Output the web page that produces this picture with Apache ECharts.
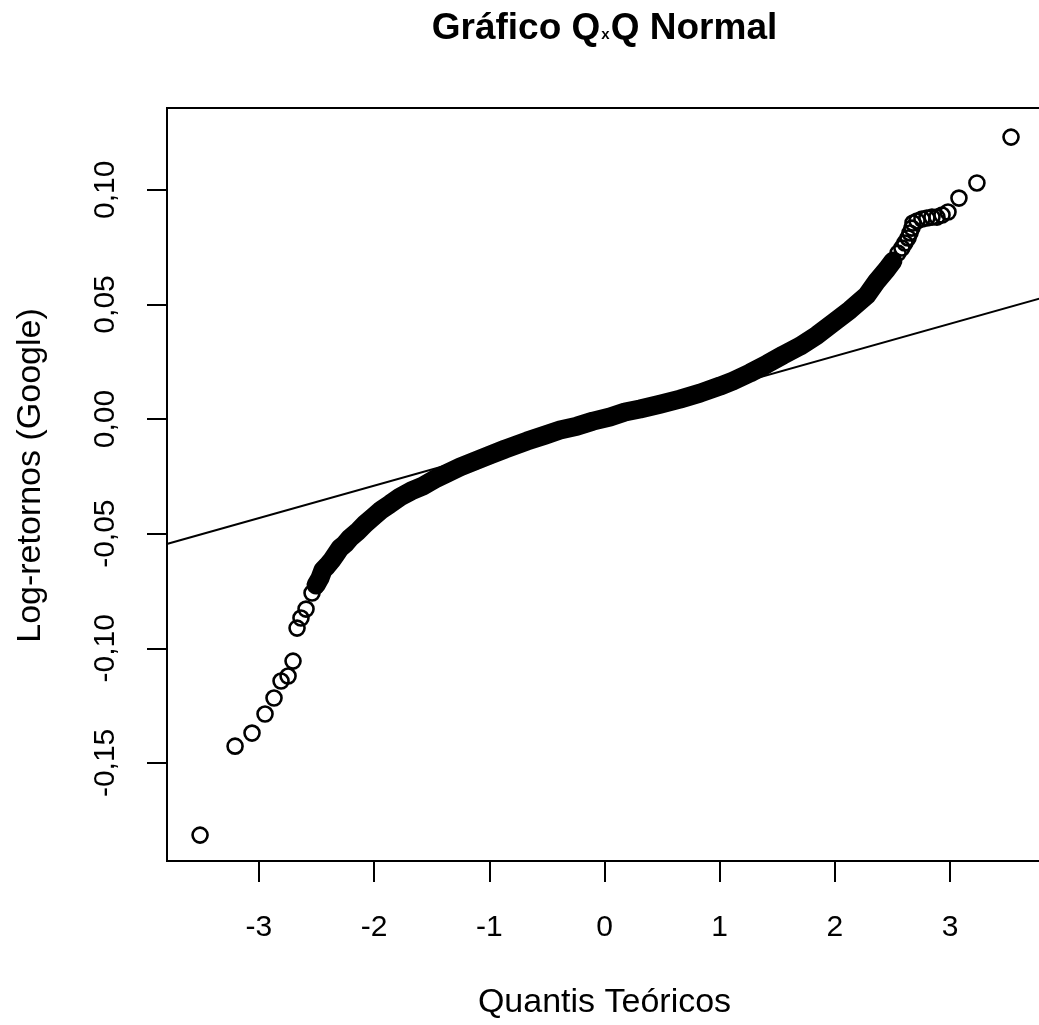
<!DOCTYPE html>
<html>
<head>
<meta charset="utf-8">
<script src="https://cdn.jsdelivr.net/npm/echarts@6/dist/echarts.min.js"></script>
<style>
  html, body { margin: 0; padding: 0; background: #ffffff; }
  #chart { width: 1039px; height: 1025px; }
</style>
</head>
<body>
<div id="chart"></div>
<script>
// Sorted Google log-returns against theoretical normal quantiles: [quantile, log-return]
const lowerTail = [
  [-3.511, -0.1815], [-3.207, -0.1427], [-3.060, -0.1370], [-2.947, -0.1287],
  [-2.869, -0.1217], [-2.808, -0.1143], [-2.747, -0.1121], [-2.704, -0.1056],
  [-2.669, -0.0912], [-2.635, -0.0868], [-2.591, -0.0829], [-2.539, -0.0759]
];
const centralBand = [
  [-2.504, -0.0724], [-2.470, -0.0694], [-2.444, -0.0659], [-2.409, -0.0641],
  [-2.366, -0.0615], [-2.331, -0.0589], [-2.296, -0.0563], [-2.253, -0.0545],
  [-2.209, -0.0519], [-2.148, -0.0493], [-2.079, -0.0458], [-2.010, -0.0428],
  [-1.940, -0.0397], [-1.862, -0.0371], [-1.775, -0.0340], [-1.680, -0.0314],
  [-1.576, -0.0292], [-1.471, -0.0262], [-1.367, -0.0236], [-1.254, -0.0209],
  [-1.124, -0.0183], [-0.994, -0.0157], [-0.864, -0.0131], [-0.673, -0.0096],
  [-0.516, -0.0070], [-0.386, -0.0048], [-0.239, -0.0031], [-0.100, -0.0009],
  [0.048, 0.0009], [0.178, 0.0031], [0.308, 0.0044], [0.482, 0.0065],
  [0.655, 0.0087], [0.829, 0.0113], [1.003, 0.0144], [1.115, 0.0166],
  [1.263, 0.0201], [1.410, 0.0240], [1.549, 0.0279], [1.697, 0.0318],
  [1.845, 0.0366], [1.983, 0.0419], [2.131, 0.0476], [2.279, 0.0541],
  [2.365, 0.0602], [2.452, 0.0654], [2.504, 0.0689]
];
const upperTail = [
  [2.548, 0.0724], [2.582, 0.0746], [2.608, 0.0768], [2.635, 0.0790],
  [2.652, 0.0812], [2.669, 0.0833], [2.678, 0.0855], [2.713, 0.0864],
  [2.756, 0.0873], [2.799, 0.0877], [2.843, 0.0881], [2.886, 0.0881],
  [2.930, 0.0890], [2.982, 0.0903], [3.077, 0.0964], [3.233, 0.1030],
  [3.529, 0.1230]
];
// Reference line through the quartiles, taken at the plot edges
const qqLine = [[-3.8, -0.0545], [3.8, 0.0529]];

const xTicks = [-3, -2, -1, 0, 1, 2, 3];
const yTicks = [-0.15, -0.10, -0.05, 0, 0.05, 0.10];

const FONT = '"Liberation Sans", Arial, Helvetica, sans-serif';
const allPoints = lowerTail.concat(centralBand, upperTail);

const chart = echarts.init(document.getElementById('chart'), null, { renderer: 'canvas' });

chart.setOption({
  animation: false,
  backgroundColor: '#ffffff',
  graphic: [{
    type: 'text',
    x: 604.5,
    y: 10,
    style: {
      text: '{b|Gráfico Q}{s|x}{b|Q Normal}',
      align: 'center',
      verticalAlign: 'top',
      rich: {
        b: { fontFamily: FONT, fontSize: 37, fontWeight: 'bold', fill: '#000', verticalAlign: 'bottom' },
        s: { fontFamily: FONT, fontSize: 15, fontWeight: 'bold', fill: '#000', verticalAlign: 'bottom', padding: [0, 1, 5, 1] }
      }
    }
  }],
  grid: {
    left: 167, top: 108, width: 875, height: 753,
    outerBoundsMode: 'none',
    containLabel: false,
    show: true, borderColor: '#000', borderWidth: 2, backgroundColor: 'transparent'
  },
  xAxis: {
    type: 'value',
    min: -3.798, max: 3.798,
    name: 'Quantis Teóricos',
    nameLocation: 'middle',
    nameGap: 125,
    nameTextStyle: { fontFamily: FONT, fontSize: 34, color: '#000' },
    axisLine: { show: false, onZero: false },
    splitLine: { show: false },
    axisTick: { show: true, inside: false, length: 21, customValues: xTicks, lineStyle: { color: '#000', width: 2 } },
    axisLabel: {
      customValues: xTicks, margin: 52,
      fontFamily: FONT, fontSize: 30, color: '#000',
      formatter: v => String(v)
    }
  },
  yAxis: {
    type: 'value',
    min: -0.1928, max: 0.1357,
    name: 'Log-retornos (Google)',
    nameLocation: 'middle',
    nameGap: 119,
    nameTextStyle: { fontFamily: FONT, fontSize: 34, color: '#000', padding: [0, 0, 0, 18] },
    axisLine: { show: false, onZero: false },
    splitLine: { show: false },
    axisTick: { show: true, inside: false, length: 20, customValues: yTicks, lineStyle: { color: '#000', width: 2 } },
    axisLabel: {
      customValues: yTicks, margin: 46, rotate: 90,
      fontFamily: FONT, fontSize: 30, color: '#000',
      formatter: v => v.toFixed(2).replace('.', ',')
    }
  },
  series: [
    {
      // solid core where thousands of circles overlap
      type: 'line',
      data: centralBand,
      symbol: 'none',
      clip: true,
      silent: true,
      z: 2,
      lineStyle: { color: '#000', width: 19, cap: 'round', join: 'round' }
    },
    {
      type: 'scatter',
      data: allPoints,
      symbol: 'circle',
      symbolSize: 15,
      silent: true,
      z: 3,
      itemStyle: { color: 'rgba(0,0,0,0)', borderColor: '#000', borderWidth: 2.6, opacity: 1 }
    },
    {
      type: 'line',
      data: qqLine,
      symbol: 'none',
      clip: true,
      silent: true,
      z: 4,
      lineStyle: { color: '#000', width: 2 }
    }
  ]
});
</script>
</body>
</html>
